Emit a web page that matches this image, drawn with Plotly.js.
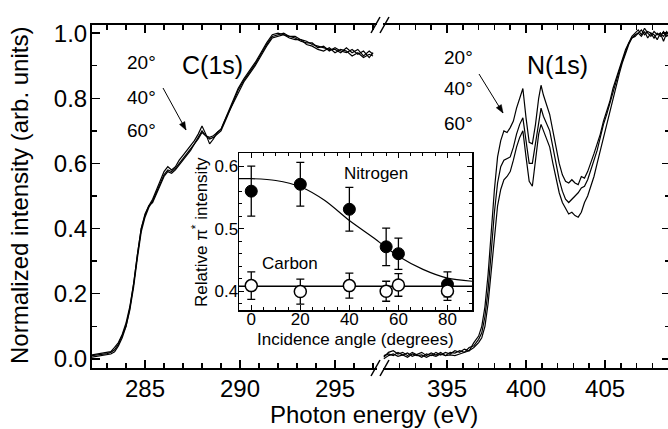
<!DOCTYPE html>
<html><head><meta charset="utf-8">
<script src="https://cdn.plot.ly/plotly-3.0.1.min.js"></script>
<style>html,body{margin:0;padding:0;overflow:hidden;background:#fff;}#chart{width:670px;height:429px;}</style>
</head><body><div id="chart"></div>
<script>
// ---- C(1s) spectra ----
const carbonEnergy = [282.2,282.5,282.8,283.0,283.2,283.4,283.6,283.8,284.0,284.2,284.4,284.6,284.8,285.0,285.2,285.4,285.6,285.8,286.0,286.2,286.4,286.6,286.8,287.0,287.2,287.4,287.6,287.8,288.0,288.2,288.4,288.6,288.8,289.0,289.3,289.6,289.9,290.2,290.5,290.8,291.1,291.4,291.7,292.0,292.3,292.6,292.9,293.2,293.5,293.8,294.1,294.4,294.7,295.0,295.3,295.6,295.9,296.2,296.5,296.8,297.0];
const carbon20 = [0.012,0.015,0.018,0.02,0.022,0.035,0.05,0.075,0.11,0.16,0.23,0.32,0.40,0.44,0.47,0.49,0.52,0.55,0.575,0.59,0.58,0.59,0.61,0.625,0.64,0.655,0.67,0.69,0.715,0.69,0.66,0.675,0.695,0.705,0.745,0.79,0.83,0.86,0.885,0.91,0.94,0.97,0.995,1.0,0.995,0.99,0.99,0.98,0.975,0.965,0.96,0.955,0.95,0.95,0.94,0.955,0.94,0.95,0.93,0.945,0.935];
const carbon40 = [0.01,0.012,0.014,0.016,0.02,0.028,0.045,0.07,0.10,0.15,0.22,0.31,0.39,0.435,0.465,0.485,0.51,0.54,0.565,0.58,0.575,0.585,0.60,0.615,0.63,0.645,0.66,0.68,0.70,0.685,0.675,0.68,0.69,0.70,0.74,0.785,0.825,0.855,0.88,0.905,0.935,0.965,0.99,0.995,1.0,0.99,0.985,0.975,0.97,0.97,0.955,0.96,0.945,0.955,0.945,0.94,0.95,0.935,0.945,0.925,0.94];
const carbon60 = [0.005,0.008,0.01,0.012,0.015,0.022,0.04,0.065,0.10,0.155,0.23,0.32,0.40,0.445,0.47,0.48,0.505,0.535,0.56,0.575,0.57,0.58,0.595,0.61,0.625,0.64,0.66,0.675,0.695,0.685,0.68,0.685,0.695,0.705,0.745,0.78,0.82,0.85,0.875,0.90,0.93,0.96,0.985,0.99,0.995,0.985,0.98,0.98,0.965,0.96,0.95,0.945,0.955,0.94,0.95,0.945,0.93,0.94,0.925,0.935,0.93];

// ---- N(1s) spectra ----
const nitrogenEnergy = [391.0,391.3,391.6,391.9,392.2,392.5,392.8,393.1,393.4,393.7,394.0,394.3,394.6,394.9,395.2,395.5,395.8,396.1,396.4,396.7,397.0,397.2,397.4,397.6,397.8,398.0,398.2,398.4,398.6,398.8,399.0,399.2,399.4,399.6,399.8,400.0,400.2,400.4,400.6,400.8,400.95,401.1,401.3,401.5,401.7,401.9,402.1,402.3,402.5,402.7,402.9,403.1,403.3,403.5,403.7,403.9,404.1,404.3,404.5,404.7,404.9,405.1,405.3,405.5,405.7,405.9,406.1,406.3,406.5,406.7,406.9,407.1,407.3,407.5,407.7,407.9,408.1,408.3,408.5,408.7,408.9,409.1];
const nitrogen20 = [0.005,0.02,0.025,0.015,0.02,0.01,0.02,0.012,0.005,0.015,0.01,0.02,0.012,0.02,0.015,0.025,0.02,0.03,0.025,0.05,0.07,0.10,0.16,0.26,0.40,0.52,0.62,0.67,0.70,0.695,0.71,0.73,0.77,0.80,0.83,0.74,0.665,0.66,0.72,0.80,0.84,0.81,0.78,0.75,0.70,0.65,0.60,0.565,0.545,0.54,0.55,0.54,0.535,0.56,0.555,0.575,0.60,0.63,0.66,0.69,0.73,0.76,0.79,0.83,0.86,0.89,0.92,0.95,0.97,0.99,1.0,1.01,0.995,1.015,1.0,0.99,1.005,0.995,1.0,0.975,1.0,0.995];
const nitrogen40 = [0.01,0.015,0.01,0.02,0.012,0.018,0.008,0.015,0.02,0.01,0.018,0.012,0.02,0.01,0.02,0.018,0.025,0.02,0.035,0.04,0.06,0.08,0.13,0.21,0.33,0.45,0.54,0.59,0.61,0.615,0.62,0.65,0.69,0.72,0.74,0.67,0.60,0.60,0.66,0.73,0.77,0.745,0.72,0.70,0.65,0.60,0.55,0.515,0.49,0.48,0.49,0.50,0.51,0.525,0.53,0.55,0.58,0.61,0.64,0.68,0.72,0.75,0.785,0.82,0.855,0.885,0.915,0.945,0.97,0.985,0.995,1.0,1.01,0.995,1.005,1.0,0.985,1.0,0.99,1.005,0.99,1.0];
const nitrogen60 = [0.0,0.01,0.015,0.008,0.012,0.005,0.015,0.01,0.012,0.005,0.012,0.008,0.015,0.01,0.012,0.01,0.015,0.02,0.025,0.035,0.05,0.065,0.10,0.17,0.27,0.38,0.47,0.52,0.55,0.56,0.575,0.61,0.65,0.68,0.70,0.62,0.545,0.53,0.61,0.69,0.72,0.70,0.67,0.65,0.60,0.55,0.51,0.48,0.46,0.445,0.45,0.44,0.435,0.45,0.48,0.50,0.53,0.56,0.60,0.64,0.68,0.72,0.76,0.80,0.84,0.875,0.91,0.94,0.965,0.985,0.99,1.0,0.99,1.005,0.985,1.0,0.995,0.98,1.0,0.99,1.005,0.99];

// ---- inset ----
const angles = [0, 20, 40, 55, 60, 80];
const nitrogenRel = [0.56, 0.571, 0.531, 0.471, 0.46, 0.411];
const nitrogenErr = [0.04, 0.035, 0.035, 0.03, 0.025, 0.02];
const carbonRel = [0.409, 0.3995, 0.409, 0.40, 0.41, 0.4005];
const carbonErr = [0.022, 0.02, 0.02, 0.016, 0.018, 0.015];
const fitAngles = [-5, 0, 10, 20, 30, 40, 50, 55, 60, 70, 80, 90];
const nitrogenFit = [0.58, 0.58, 0.577, 0.567, 0.545, 0.513, 0.485, 0.47, 0.456, 0.435, 0.421, 0.416];
const carbonLineX = [-5, 90];
const carbonLineY = [0.408, 0.408];

const xTickLabelsLeft = [285, 290, 295];
const xTickLabelsRight = [395, 400, 405];

// ---- geometry helpers (pixel -> paper) ----
const W = 670, H = 429, L = 92, T = 25, B = 61, R = 0;
const PW = W - L - R, PH = H - T - B;
const px = p => (p - L) / PW;
const py = p => (H - B - p) / PH;

const FONT = 'Liberation Sans, Arial, Helvetica, sans-serif';
const line = {color: 'black', width: 1.2};

const traces = [];
[carbon20, carbon40, carbon60].forEach(s => traces.push({x: carbonEnergy, y: s, xaxis: 'x', yaxis: 'y', mode: 'lines', line: line, hoverinfo: 'skip'}));
[nitrogen20, nitrogen40, nitrogen60].forEach(s => traces.push({x: nitrogenEnergy, y: s, xaxis: 'x2', yaxis: 'y2', mode: 'lines', line: line, hoverinfo: 'skip'}));

traces.push({x: fitAngles, y: nitrogenFit, xaxis: 'x3', yaxis: 'y3', mode: 'lines', line: {color: 'black', width: 1.2, shape: 'spline', smoothing: 0.8}});
traces.push({x: carbonLineX, y: carbonLineY, xaxis: 'x3', yaxis: 'y3', mode: 'lines', line: {color: 'black', width: 1.5}});
traces.push({x: angles, y: nitrogenRel, xaxis: 'x3', yaxis: 'y3', mode: 'markers',
  marker: {color: 'black', size: 12, line: {color: 'black', width: 1}},
  error_y: {type: 'data', array: nitrogenErr, visible: true, color: 'black', thickness: 1.3, width: 4}});
traces.push({x: angles, y: carbonRel, xaxis: 'x3', yaxis: 'y3', mode: 'markers',
  marker: {color: 'white', size: 12, line: {color: 'black', width: 1.5}},
  error_y: {type: 'data', array: carbonErr, visible: true, color: 'black', thickness: 1.3, width: 4}});

const mainX = {
  showline: true, linewidth: 2, linecolor: 'black', mirror: 'ticks',
  ticks: 'inside', ticklen: 8, tickwidth: 1.5, tickcolor: 'black',
  minor: {dtick: 1, ticks: 'inside', ticklen: 5, tickwidth: 1.5, tickcolor: 'black'},
  showgrid: false, zeroline: false, tickfont: {size: 24, family: FONT, color: 'black'},
  ticklabelstandoff: -2, fixedrange: true
};
const mainY = {
  showline: true, linewidth: 2, linecolor: 'black',
  ticks: 'inside', ticklen: 8, tickwidth: 1.5, tickcolor: 'black',
  range: [-0.028, 1.025], dtick: 0.2, tick0: 0, tickformat: '.1f',
  minor: {dtick: 0.1, ticks: 'inside', ticklen: 5, tickwidth: 1.5, tickcolor: 'black'},
  showgrid: false, zeroline: false, tickfont: {size: 24, family: FONT, color: 'black'},
  ticklabelstandoff: -2, domain: [0, 1]
};
const insetAxis = {
  showline: true, linewidth: 1.5, linecolor: 'black', mirror: 'ticks',
  ticks: 'inside', ticklen: 5, tickwidth: 1.2, tickcolor: 'black',
  showgrid: false, zeroline: false, tickfont: {size: 17, family: FONT, color: 'black'}
};

const layout = {
  width: W, height: H, margin: {l: L, r: R, t: T, b: B},
  paper_bgcolor: 'white', plot_bgcolor: 'white', showlegend: false,
  font: {family: FONT, color: 'black'},
  xaxis: Object.assign({}, mainX, {domain: [0, px(377)], range: [282.21, 297.21], anchor: 'y', tickvals: xTickLabelsLeft, ticktext: xTickLabelsLeft.map(String)}),
  xaxis2: Object.assign({}, mainX, {domain: [px(383), 1], range: [390.95, 409.11], anchor: 'y2', tickvals: xTickLabelsRight, ticktext: xTickLabelsRight.map(String)}),
  yaxis: Object.assign({}, mainY, {anchor: 'x', side: 'left'}),
  yaxis2: Object.assign({}, mainY, {anchor: 'x2', side: 'right', showticklabels: false}),
  xaxis3: Object.assign({}, insetAxis, {domain: [px(239), px(472)], range: [-5, 90], anchor: 'y3', dtick: 20, tick0: 0, ticklabelstandoff: -7,
    minor: {dtick: 5, ticks: 'inside', ticklen: 3, tickwidth: 1, tickcolor: 'black'}}),
  yaxis3: Object.assign({}, insetAxis, {domain: [py(310), py(153)], range: [0.37, 0.621], anchor: 'x3', dtick: 0.1, tick0: 0, tickformat: '.1f', ticklabelstandoff: -4,
    minor: {dtick: 0.02, ticks: 'inside', ticklen: 3, tickwidth: 1, tickcolor: 'black'}}),
  shapes: [],
  annotations: []
};

// axis break marks
[T, H - B].forEach(yy => {
  layout.shapes.push({type: 'line', xref: 'paper', yref: 'paper', x0: px(371), y0: py(yy + 8), x1: px(380), y1: py(yy - 8), line: {color: 'black', width: 1.5}});
  layout.shapes.push({type: 'line', xref: 'paper', yref: 'paper', x0: px(380), y0: py(yy + 8), x1: px(389), y1: py(yy - 8), line: {color: 'black', width: 1.5}});
});

// arrows drawn as shapes (tail -> head, in pixels)
function arrow(tx, ty, hx, hy) {
  layout.shapes.push({type: 'line', xref: 'paper', yref: 'paper', x0: px(tx), y0: py(ty), x1: px(hx), y1: py(hy), line: {color: 'black', width: 1}});
  const dx = hx - tx, dy = hy - ty, len = Math.hypot(dx, dy);
  const ux = dx / len, uy = dy / len, nx = -uy, ny = ux;
  const bx = hx - 8 * ux, by = hy - 8 * uy;
  const p1 = [bx + 3 * nx, by + 3 * ny], p2 = [bx - 3 * nx, by - 3 * ny];
  layout.shapes.push({type: 'path', xref: 'paper', yref: 'paper',
    path: `M ${px(hx)} ${py(hy)} L ${px(p1[0])} ${py(p1[1])} L ${px(p2[0])} ${py(p2[1])} Z`,
    fillcolor: 'black', line: {color: 'black', width: 0.5}});
}
arrow(163, 88, 186, 130);
arrow(479, 74, 503, 113);

function txt(text, x, y, size, opts) {
  layout.annotations.push(Object.assign({text: text, x: px(x), y: py(y), xref: 'paper', yref: 'paper', xanchor: 'left', yanchor: 'middle',
    showarrow: false, font: {size: size, family: FONT, color: 'black'}}, opts || {}));
}
// main titles
txt('Normalized intensity (arb. units)', 20, 196, 24, {xanchor: 'center', textangle: -90});
txt('Photon energy (eV)', 374, 414, 24, {xanchor: 'center'});
// C labels
txt('20°', 125, 63, 19); txt('40°', 125, 97, 19); txt('60°', 125, 130, 19);
txt('C(1s)', 180, 65, 25);
// N labels
txt('20°', 442, 57, 19); txt('40°', 442, 88, 19); txt('60°', 442, 123, 19);
txt('N(1s)', 525, 65, 25);
// inset labels
txt('Nitrogen', 342, 173, 17);
txt('Carbon', 260, 263, 17);
txt('Incidence angle (degrees)', 355, 339, 17, {xanchor: 'center'});
txt('Relative π<sup>*</sup> intensity', 200, 232, 17, {xanchor: 'center', textangle: -90});

Plotly.newPlot('chart', traces, layout, {staticPlot: true, displayModeBar: false});
</script></body></html>
